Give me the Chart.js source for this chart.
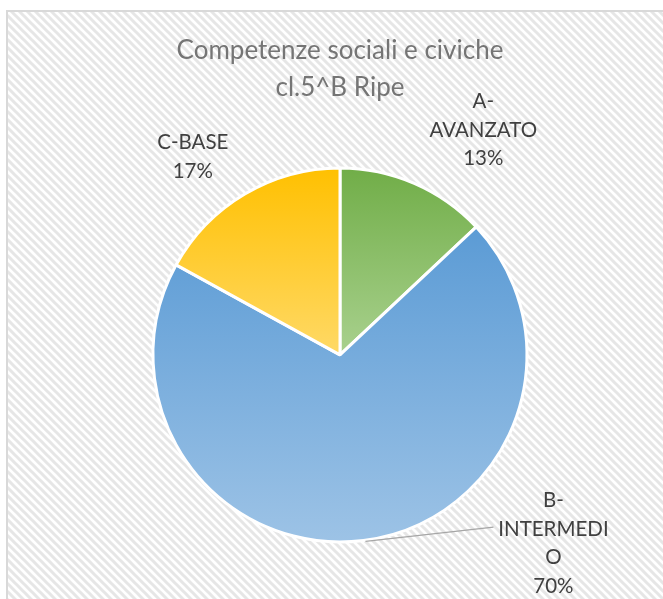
<!DOCTYPE html>
<html>
<head>
<meta charset="utf-8">
<script src="https://cdn.jsdelivr.net/npm/chart.js@4"></script>
<style>
  body { margin: 0; background: #fff; }
  #wrap { width: 663px; height: 599px; }
</style>
</head>
<body>
<div id="wrap"><canvas id="myChart" width="663" height="599"></canvas></div>
<script>
const categories = ["A-AVANZATO", "B-INTERMEDIO", "C-BASE"];
const labelLines = [["A-", "AVANZATO"], ["B-", "INTERMEDI", "O"], ["C-BASE"]];
const percents = [13, 70, 17];
const topColors = ["#70AD47", "#5B9BD5", "#FFC000"];
const bottomColors = ["#A9D18E", "#9DC3E6", "#FFD966"];
// where the label block sits, relative to the outer edge at the slice middle
const labelOffsets = [[69, -53], [190, 3], [-52, -37]];
const leaderSlices = [1];

// bounding box (vertical) of a pie slice, chart.js angles
function sliceBox(cx, cy, r, a0, a1) {
  let ys = [cy, cy + Math.sin(a0) * r, cy + Math.sin(a1) * r];
  for (let k = -4; k <= 4; k++) {
    const a = Math.PI / 2 + k * Math.PI;
    if (a > a0 && a < a1) ys.push(cy + Math.sin(a) * r);
  }
  return [Math.min(...ys), Math.max(...ys)];
}

function sliceGradient(context) {
  const chart = context.chart;
  const area = chart.chartArea;
  const i = context.dataIndex;
  if (!area) return topColors[i];
  const cx = (area.left + area.right) / 2;
  const cy = (area.top + area.bottom) / 2;
  const r = Math.min(area.width, area.height) / 2;
  const total = percents.reduce((a, b) => a + b, 0);
  let start = -Math.PI / 2;
  for (let j = 0; j < i; j++) start += percents[j] / total * Math.PI * 2;
  const end = start + percents[i] / total * Math.PI * 2;
  const box = sliceBox(cx, cy, r, start, end);
  const g = chart.ctx.createLinearGradient(0, box[0], 0, box[1]);
  g.addColorStop(0, topColors[i]);
  g.addColorStop(1, bottomColors[i]);
  return g;
}

const background = {
  id: "background",
  beforeDraw(chart) {
    const ctx = chart.ctx;
    const p = document.createElement("canvas");
    p.width = 8; p.height = 8;
    const pc = p.getContext("2d");
    pc.fillStyle = "#ffffff";
    pc.fillRect(0, 0, 8, 8);
    pc.strokeStyle = "#e6e6e6";
    pc.lineWidth = 3;
    pc.beginPath();
    pc.moveTo(-2, -2); pc.lineTo(10, 10);
    pc.moveTo(-2, 6); pc.lineTo(2, 10);
    pc.moveTo(6, -2); pc.lineTo(10, 2);
    pc.stroke();
    ctx.save();
    ctx.fillStyle = "#ffffff";
    ctx.fillRect(0, 0, chart.width, chart.height);
    ctx.fillStyle = ctx.createPattern(p, "repeat");
    ctx.fillRect(7, 12, chart.width - 7, chart.height - 12);
    ctx.strokeStyle = "#d9d9d9";
    ctx.lineWidth = 2;
    ctx.beginPath();
    ctx.moveTo(7, chart.height);
    ctx.lineTo(7, 11);
    ctx.lineTo(chart.width, 11);
    ctx.stroke();
    ctx.restore();
  }
};

const sliceLabels = {
  id: "sliceLabels",
  afterDatasetsDraw(chart) {
    const ctx = chart.ctx;
    const meta = chart.getDatasetMeta(0);
    const total = percents.reduce((a, b) => a + b, 0);
    ctx.save();
    ctx.font = "20.5px Lato";
    ctx.fillStyle = "#404040";
    ctx.textAlign = "center";
    ctx.textBaseline = "middle";
    meta.data.forEach((arc, i) => {
      const p = arc.getProps(["x", "y", "startAngle", "endAngle", "outerRadius"], true);
      const mid = (p.startAngle + p.endAngle) / 2;
      const ex = p.x + Math.cos(mid) * p.outerRadius;
      const ey = p.y + Math.sin(mid) * p.outerRadius;
      const lines = labelLines[i].concat([Math.round(percents[i] / total * 100) + "%"]);
      const lh = 28.5;
      const lx = ex + labelOffsets[i][0];
      const ly = ey + labelOffsets[i][1];
      const top = ly - (lines.length - 1) * lh / 2;
      if (leaderSlices.includes(i)) {
        ctx.strokeStyle = "#a6a6a6";
        ctx.lineWidth = 1.2;
        ctx.beginPath();
        ctx.moveTo(ex + 2, ey + 1);
        ctx.lineTo(lx - 60, top + lh - 2);
        ctx.stroke();
      }
      lines.forEach((t, k) => ctx.fillText(t, lx, top + k * lh));
    });
    ctx.restore();
  }
};

new Chart("myChart", {
  type: "pie",
  data: {
    labels: categories,
    datasets: [{
      data: percents,
      backgroundColor: sliceGradient,
      borderColor: "#ffffff",
      borderWidth: 3
    }]
  },
  options: {
    responsive: false,
    animation: false,
    layout: {
      padding: { left: 151.5, right: 134.5, top: 0, bottom: 55.5 }
    },
    plugins: {
      legend: { display: false },
      tooltip: { enabled: false },
      title: {
        display: true,
        text: ["Competenze sociali e civiche", "cl.5^B Ripe"],
        color: "#757575",
        font: { family: "Lato", size: 26, weight: "normal", lineHeight: 1.42 },
        padding: { top: 32.5, bottom: 60 }
      }
    }
  },
  plugins: [background, sliceLabels]
});
</script>
</body>
</html>
